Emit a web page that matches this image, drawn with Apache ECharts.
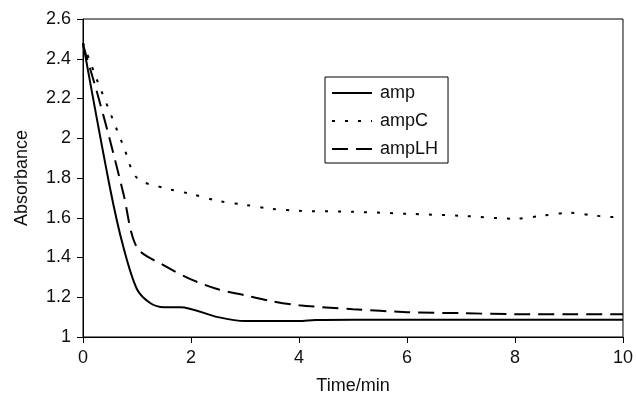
<!DOCTYPE html>
<html>
<head>
<meta charset="utf-8">
<style>
  html, body { margin: 0; padding: 0; background: #fff; }
  #chart { width: 636px; height: 400px; }
</style>
<script src="https://cdn.jsdelivr.net/npm/echarts@6/dist/echarts.min.js"></script>
</head>
<body>
<div id="chart"></div>
<script>
// time in minutes, absorbance
const ampTime = [0, 0.5, 0.75, 1, 1.25, 1.5, 1.8, 2.5, 3, 4, 4.3, 5, 6, 7, 8, 9, 10]
const ampVals = [2.48, 1.75, 1.45, 1.24, 1.17, 1.15, 1.15, 1.10, 1.08, 1.08, 1.085, 1.087, 1.087, 1.087, 1.087, 1.087, 1.087]

const ampCTime = [0, 0.25, 0.5, 0.75, 1, 1.5, 2, 2.5, 3, 3.5, 4, 5, 6, 7, 8, 8.5, 9, 9.5, 10]
const ampCVals = [2.48, 2.30, 2.13, 1.96, 1.80, 1.75, 1.72, 1.685, 1.665, 1.645, 1.635, 1.63, 1.62, 1.61, 1.595, 1.61, 1.625, 1.61, 1.60]

const ampLHTime = [0, 0.25, 0.5, 0.75, 1, 1.5, 2, 2.5, 3, 3.5, 4, 5, 6, 7, 8, 9, 10]
const ampLHVals = [2.47, 2.24, 1.99, 1.72, 1.45, 1.36, 1.29, 1.24, 1.21, 1.18, 1.16, 1.14, 1.125, 1.12, 1.115, 1.115, 1.115]

const seriesNames = ['amp', 'ampC', 'ampLH']

const toPairs = (xs, ys) => xs.map((x, i) => [x, ys[i]])

const font = 'Liberation Sans, Arial, sans-serif'
const myChart = echarts.init(document.getElementById('chart'))

const axisCommon = {
  axisLine: { show: true, lineStyle: { color: '#000', width: 1 } },
  axisTick: { show: true, length: 6, lineStyle: { color: '#000' } },
  splitLine: { show: false },
  axisLabel: { color: '#111', fontSize: 18, fontFamily: font },
  nameTextStyle: { color: '#111', fontSize: 18, fontFamily: font }
}

const option = {
  animation: false,
  backgroundColor: '#fff',
  grid: {
    left: 83, right: 10, top: 19, bottom: 63,
    show: true, borderColor: '#000', borderWidth: 1
  },
  legend: {
    orient: 'vertical',
    left: 325,
    top: 77,
    data: seriesNames,
    itemWidth: 40,
    itemHeight: 14,
    itemGap: 10,
    padding: [7, 10, 5, 6],
    borderColor: '#000',
    borderWidth: 1,
    itemStyle: { opacity: 0 },
    textStyle: { color: '#111', fontSize: 18, fontFamily: font, padding: [0, 0, 0, 3] }
  },
  xAxis: Object.assign({}, axisCommon, {
    type: 'value',
    min: 0, max: 10, interval: 2,
    name: 'Time/min',
    nameLocation: 'middle',
    nameGap: 40,
    axisLabel: Object.assign({}, axisCommon.axisLabel, { margin: 12 })
  }),
  yAxis: Object.assign({}, axisCommon, {
    type: 'value',
    min: 1, max: 2.6, interval: 0.2,
    name: 'Absorbance',
    nameLocation: 'middle',
    nameGap: 52,
    axisLabel: Object.assign({}, axisCommon.axisLabel, { margin: 12 })
  }),
  series: [
    {
      name: 'amp', type: 'line', symbol: 'none', smooth: 0.3,
      data: toPairs(ampTime, ampVals),
      lineStyle: { color: '#000', width: 2, type: 'solid' },
      itemStyle: { color: '#000' }
    },
    {
      name: 'ampC', type: 'line', symbol: 'none', smooth: 0.3,
      data: toPairs(ampCTime, ampCVals),
      lineStyle: { color: '#000', width: 2, type: [3, 10] },
      itemStyle: { color: '#000' }
    },
    {
      name: 'ampLH', type: 'line', symbol: 'none', smooth: 0.3,
      data: toPairs(ampLHTime, ampLHVals),
      lineStyle: { color: '#000', width: 2, type: [16, 8] },
      itemStyle: { color: '#000' }
    }
  ]
}

myChart.setOption(option)
</script>
</body>
</html>
